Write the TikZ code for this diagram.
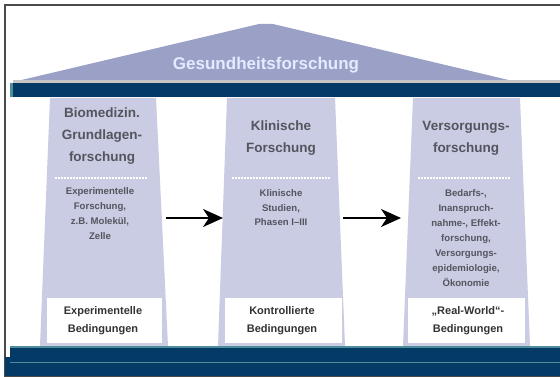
\documentclass[tikz,border=0pt]{standalone}
\usepackage{fontspec}
\setmainfont{Liberation Sans}
\usetikzlibrary{arrows.meta}
\definecolor{navy}{HTML}{033A66}
\definecolor{rooffill}{HTML}{9AA0C6}
\definecolor{pillarfill}{HTML}{C9CCE2}
\definecolor{framegray}{HTML}{4A4A4A}
\definecolor{txtgray}{HTML}{55555F}
\definecolor{stripe}{HTML}{4E8E9C}
\definecolor{rooftxt}{HTML}{E4EAFF}
\tikzset{
  pillar/.style={fill=pillarfill},
  divider/.style={draw=white, line width=1.6pt, dash pattern=on 2pt off 1pt},
  whitebox/.style={fill=white},
  headtxt/.style={align=center, inner sep=0pt, text=txtgray, font=\bfseries\fontsize{13.5}{22}\selectfont},
  bodytxt/.style={align=center, inner sep=0pt, text=txtgray, font=\bfseries\fontsize{9.6}{15}\selectfont},
  boxtxt/.style={align=center, inner sep=0pt, text=black!80, font=\bfseries\fontsize{11}{18}\selectfont},
  rooftext/.style={inner sep=0pt, text=rooftxt, font=\bfseries\fontsize{17}{20}\selectfont},
  flowarrow/.style={line width=2pt, -{Stealth[length=20pt,width=18pt,inset=6pt]}}
}
\begin{document}
\begin{tikzpicture}[x=1pt,y=-1pt]
\useasboundingbox (0,0) rectangle (560,377);
\fill[white] (0,0) rectangle (560,377);
% frame
\draw[framegray, line width=1.6pt] (4.8,377) -- (4.8,4.8) -- (560,4.8);
% roof
\fill[rooffill] (13,82) -- (259,24) -- (273,24) -- (517,82) -- cycle;
\fill[black!22] (13,80.5) rectangle (560,83);
\node[rooftext] (roof) at (266,65) {Gesundheitsforschung};
% beam
\fill[navy] (10,83) rectangle (560,97.5);
\fill[stripe] (10,83) rectangle (13,97.5);
% pillars
\fill[pillar] (50,98) -- (156,98) -- (168,346) -- (40,346) -- cycle;
\fill[pillar] (227,98) -- (335,98) -- (345,346) -- (218,346) -- cycle;
\fill[pillar] (413,98) -- (520,98) -- (530,346) -- (403,346) -- cycle;
% dividers
\draw[divider] (55,178) -- (148,178);
\draw[divider] (232,178) -- (330,178);
\draw[divider] (418,178) -- (510,178);
% white boxes
\fill[whitebox] (47,298) rectangle (162,343);
\fill[whitebox] (225,298) rectangle (342,343);
\fill[whitebox] (408,298) rectangle (525,343);
% header texts
\node[headtxt] (h1) at (102,136) {Biomedizin.\\Grundlagen-\\forschung};
\node[headtxt] (h2) at (281,138) {Klinische\\Forschung};
\node[headtxt] (h3) at (466,138) {Versorgungs-\\forschung};
% body texts
\node[bodytxt] (b1) at (100,214) {Experimentelle\\Forschung,\\z.B. Molekül,\\Zelle};
\node[bodytxt, font=\bfseries\fontsize{9.6}{14.5}\selectfont] (b2) at (281,208) {Klinische\\Studien,\\Phasen I--III};
\node[bodytxt] (b3) at (466,238) {Bedarfs-,\\Inanspruch-\\nahme-, Effekt-\\forschung,\\Versorgungs-\\epidemiologie,\\Ökonomie};
% bottom texts
\node[boxtxt] (c1) at (103,321) {Experimentelle\\Bedingungen};
\node[boxtxt] (c2) at (282,321) {Kontrollierte\\Bedingungen};
\node[boxtxt] (c3) at (468,321) {„Real-World“-\\Bedingungen};
% arrows
\coordinate (p1r) at (166,218);
\coordinate (p2l) at (223,218);
\coordinate (p2r) at (343,218);
\coordinate (p3l) at (401,218);
\draw[flowarrow] (p1r) -- (p2l);
\draw[flowarrow] (p2r) -- (p3l);
% base
\fill[navy] (10,346) rectangle (560,357);
\fill[navy] (5,357) rectangle (560,377);
\fill[stripe] (10,346) rectangle (560,347.5);
\fill[stripe] (10,361.5) rectangle (560,363);
\draw[framegray, line width=1.2pt] (4.8,376.4) -- (560,376.4);
\end{tikzpicture}
\end{document}
